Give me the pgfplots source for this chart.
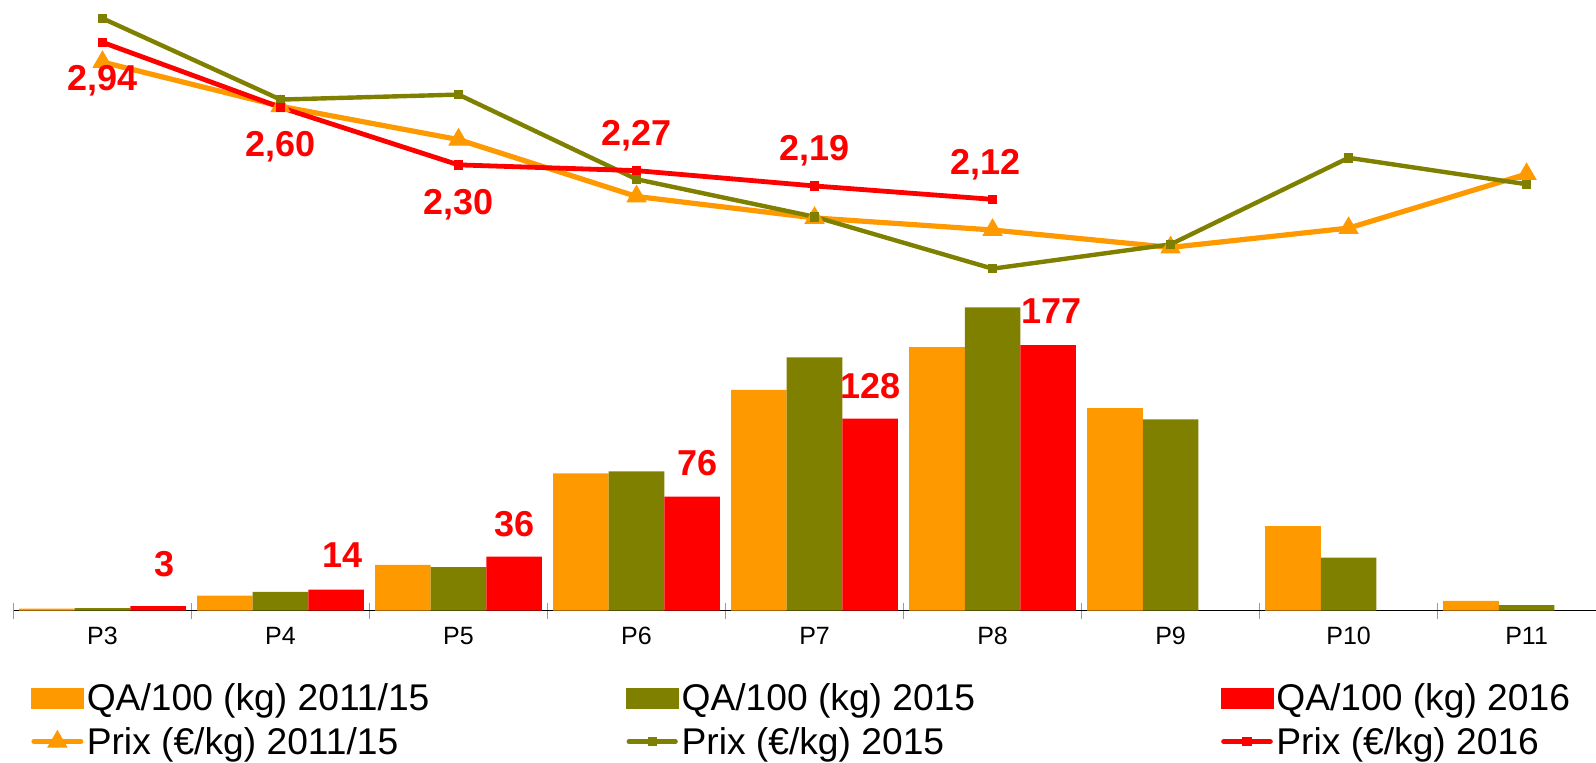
\documentclass[border=0pt]{standalone}
\usepackage{fontspec}
\setmainfont{Liberation Sans}
\usepackage{pgfplots}
\pgfplotsset{compat=1.18}
\definecolor{cOr}{RGB}{255,153,0}
\definecolor{cOl}{RGB}{128,128,0}
\definecolor{cRd}{RGB}{255,0,0}
\begin{document}
\begin{tikzpicture}
\begin{axis}[
  at={(6.75pt,75.65pt)}, anchor=south west, scale only axis,
  width=791.25pt, height=305.35pt,
  xmin=-0.5, xmax=8.39, ymin=0, ymax=407.1,
  ybar=0pt, bar width=27.8pt,
  axis x line*=bottom, axis y line=none,
  x axis line style={black, line width=0.75pt, -},
  xtick={0,...,8}, xticklabels={P3,P4,P5,P6,P7,P8,P9,P10,P11},
  major tick length=0pt,
  minor xtick={-0.5,0.5,...,7.5}, minor tick length=8pt, tick align=center,
  minor x tick style={gray!80, line width=0.6pt},
  xticklabel style={font=\fontsize{12.5}{15}\selectfont, anchor=base, yshift=-17pt},
  clip=false,
]
\addplot[fill=cOr, draw=none] table[row sep=\\] {
x y\\ 0 1.4\\ 1 10\\ 2 30.5\\ 3 91.6\\ 4 147.2\\ 5 175.7\\ 6 135\\ 7 56.3\\ 8 6.5\\
};
\addplot[fill=cOl, draw=none] table[row sep=\\] {
x y\\ 0 1.8\\ 1 12.5\\ 2 29.1\\ 3 92.9\\ 4 168.9\\ 5 202.2\\ 6 127.5\\ 7 35.3\\ 8 3.8\\
};
\addplot[fill=cRd, draw=none, nodes near coords, point meta=explicit symbolic,
  visualization depends on={value \thisrow{off} \as \off},
  visualization depends on={value \thisrow{xo} \as \xo},
  every node near coord/.append style={anchor=center, yshift=\off pt, xshift=\xo pt,
    font=\fontsize{18}{18}\selectfont\bfseries, text=cRd}]
  table[row sep=\\, meta=lbl] {
x y off xo lbl\\ 0 3 20.8 3 3\\ 1 14 17.1 3 14\\ 2 36 16.3 0 36\\ 3 76 16.8 2.5 76\\ 4 128 16.3 0 128\\ 5 177 16.8 1.5 177\\
};
\end{axis}
\begin{axis}[
  at={(6.75pt,75.65pt)}, anchor=south west, scale only axis,
  width=791.25pt, height=305.35pt,
  xmin=-0.5, xmax=8.39, ymin=-0.028, ymax=3.161,
  hide axis, clip=false,
  legend columns=3, legend cell align=left,
  legend style={at={(axis description cs:0,0)}, anchor=north west, xshift=8.75pt, yshift=-34.5pt,
    draw=none, fill=none, inner sep=0pt, outer sep=0pt, column sep=0pt, row sep=3.2pt,
    font=\fontsize{18.6}{21}\selectfont,
    nodes={inner sep=0pt, text height=15.5pt, text depth=3pt}},
  legend image code/.code={\draw[#1, line cap=round, mark repeat=2, mark phase=2] plot coordinates {(1.3pt,0pt) (13pt,0pt) (24.7pt,0pt)};},
]
\addlegendimage{legend image code/.code={\fill[cOr] (0pt,-5pt) rectangle (26pt,5pt);}}
\addlegendentry{\hspace*{1.5pt}\makebox[269.5pt][l]{QA/100 (kg) 2011/15}}
\addlegendimage{legend image code/.code={\fill[cOl] (0pt,-5pt) rectangle (26pt,5pt);}}
\addlegendentry{\hspace*{1.5pt}\makebox[269.5pt][l]{QA/100 (kg) 2015}}
\addlegendimage{legend image code/.code={\fill[cRd] (0pt,-5pt) rectangle (26pt,5pt);}}
\addlegendentry{\hspace*{1.5pt}QA/100 (kg) 2016}
\addplot[cOr, line width=2.6pt, mark=triangle*, mark size=5.5pt, mark options={solid, line width=0.4pt}]
  table[row sep=\\] {
x y\\ 0 2.837\\ 1 2.606\\ 2 2.432\\ 3 2.135\\ 4 2.023\\ 5 1.960\\ 6 1.869\\ 7 1.970\\ 8 2.252\\
};
\addlegendentry{\hspace*{1.5pt}\makebox[269.5pt][l]{Prix (€/kg) 2011/15}}
\addplot[cOl, line width=2.2pt, mark=square*, mark size=2.1pt, mark options={solid, line width=0.4pt}]
  table[row sep=\\] {
x y\\ 0 3.065\\ 1 2.641\\ 2 2.667\\ 3 2.225\\ 4 2.029\\ 5 1.758\\ 6 1.885\\ 7 2.337\\ 8 2.199\\
};
\addlegendentry{\hspace*{1.5pt}\makebox[269.5pt][l]{Prix (€/kg) 2015}}
\addplot[cRd, line width=2.4pt, mark=square*, mark size=2.1pt, mark options={solid, line width=0.4pt},
  nodes near coords, point meta=explicit symbolic,
  visualization depends on={value \thisrow{off} \as \off},
  visualization depends on={value \thisrow{xo} \as \xo},
  every node near coord/.append style={anchor=center, yshift=\off pt, xshift=\xo pt,
    font=\fontsize{18}{18}\selectfont\bfseries, text=cRd}]
  table[row sep=\\, meta=lbl] {
x y off xo lbl\\ 0 2.94 -19.3 0 2,94\\ 1 2.60 -19.6 0 2,60\\ 2 2.30 -19.8 0 2,30\\ 3 2.27 17.6 0 2,27\\ 4 2.19 17.6 0 2,19\\ 5 2.12 17.2 -3.5 2,12\\
};
\addlegendentry{\hspace*{1.5pt}Prix (€/kg) 2016}
\end{axis}
\pgfresetboundingbox
\useasboundingbox (0,0) rectangle (798pt,381pt);
\end{tikzpicture}
\end{document}
